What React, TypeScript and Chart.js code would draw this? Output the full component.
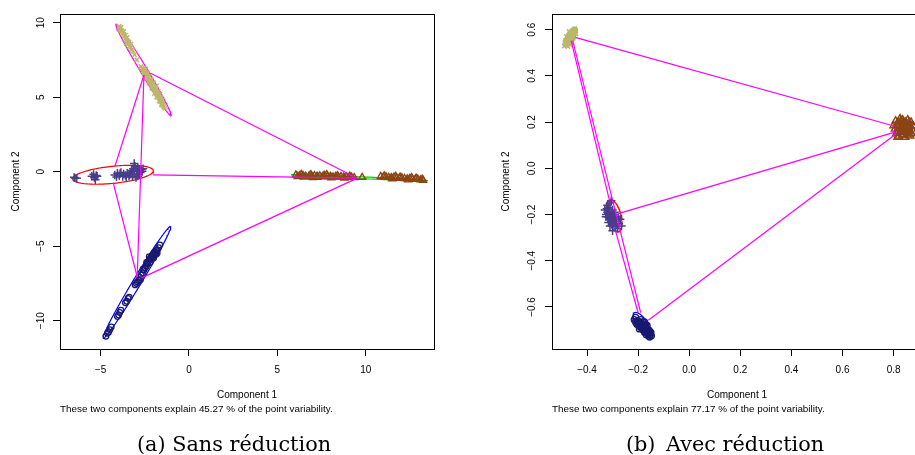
import React, { useEffect, useRef } from "react";
import { Chart, registerables } from "chart.js";

Chart.register(...registerables);

type P = [number, number];

// ---------------- Panel (a) : Sans réduction ----------------
const aXTicks = [-5, 0, 5, 10];
const aXTickLabels = ["−5", "0", "5", "10"];
const aYTicks = [-10, -5, 0, 5, 10];
const aYTickLabels = ["−10", "−5", "0", "5", "10"];
const aXRange = [-7.3, 13.865];
const aYRange = [-11.9, 10.58];
const aNote = "These two components explain 45.27 % of the point variability.";

// cluster points (Component 1, Component 2)
const aCross: P[] = [
  [-6.45, -0.42], [-6.35, -0.45], [-6.5, -0.38], [-5.5, -0.3], [-5.4, -0.18], [-5.35, -0.4],
  [-5.25, -0.25], [-5.3, -0.55], [-5.2, -0.3], [-4.2, -0.22], [-4.1, -0.35], [-4.05, -0.1],
  [-3.95, -0.28], [-3.85, -0.05], [-3.75, -0.32], [-3.7, -0.15], [-3.6, -0.25], [-3.5, -0.1],
  [-3.4, -0.3], [-3.3, -0.05], [-3.25, 0.08], [-3.2, -0.35], [-3.15, 0.2], [-3.1, -0.15],
  [-3.05, 0.35], [-3.0, -0.4], [-2.95, 0.05], [-2.9, 0.25], [-2.85, -0.2], [-2.8, 0.12],
  [-2.75, -0.05], [-2.7, 0.15], [-2.65, 0.02], [-2.6, 0.2], [-3.1, 0.55], [-3.35, -0.2],
  [-3.55, -0.35], [-3.9, -0.12], [-2.9, -0.3], [-3.2, 0.0],
];
const aCircle: P[] = [
  [-4.7, -11.05], [-4.62, -10.85], [-4.55, -10.78], [-4.48, -10.6], [-4.4, -10.42],
  [-4.05, -9.72], [-3.98, -9.62], [-3.92, -9.45], [-3.85, -9.3], [-3.6, -8.8], [-3.52, -8.7],
  [-3.45, -8.5], [-3.38, -8.42], [-3.05, -7.6], [-2.98, -7.5], [-2.92, -7.4], [-2.85, -7.3],
  [-2.78, -7.1], [-2.7, -6.95], [-2.62, -6.8], [-2.55, -6.6], [-2.48, -6.45], [-2.42, -6.35],
  [-2.35, -6.2], [-2.3, -6.05], [-2.25, -5.95], [-2.2, -5.85], [-2.15, -5.75], [-2.1, -5.7],
  [-2.05, -5.55], [-2.0, -5.5], [-1.95, -5.4], [-1.9, -5.45], [-1.85, -5.3], [-1.8, -5.25],
  [-1.72, -5.1], [-1.65, -4.92], [-2.25, -5.7], [-2.05, -5.75], [-1.85, -5.55],
  [-2.4, -6.1], [-2.2, -6.1], [-2.0, -5.8], [-1.8, -5.45], [-2.6, -6.55], [-2.75, -7.25],
];
const aTriangle: P[] = [
  [6.05, -0.22], [6.25, -0.28], [6.45, -0.25], [6.6, -0.3], [6.8, -0.27], [6.95, -0.32],
  [7.1, -0.26], [7.25, -0.3], [7.4, -0.28], [7.55, -0.33], [7.7, -0.3], [7.85, -0.34],
  [8.0, -0.31], [8.15, -0.35], [8.3, -0.32], [8.45, -0.36], [8.6, -0.33], [8.75, -0.37],
  [8.9, -0.35], [9.05, -0.38], [9.2, -0.36], [9.35, -0.4], [9.8, -0.38],
  [6.15, -0.32], [6.5, -0.36], [6.9, -0.2], [7.3, -0.38], [7.65, -0.24], [8.05, -0.41],
  [8.4, -0.26], [8.8, -0.43], [9.1, -0.3], [6.35, -0.18], [7.0, -0.4], [7.8, -0.2],
  [10.85, -0.32], [11.0, -0.36], [11.15, -0.34], [11.3, -0.38], [11.45, -0.4], [11.6, -0.37],
  [11.75, -0.42], [11.9, -0.44], [12.05, -0.41], [12.2, -0.46], [12.35, -0.48], [12.5, -0.45],
  [12.65, -0.5], [12.8, -0.52], [12.95, -0.5], [13.1, -0.55], [13.25, -0.58],
  [11.05, -0.28], [11.5, -0.48], [11.95, -0.36], [12.4, -0.55], [12.85, -0.44], [13.2, -0.5],
  [11.7, -0.32], [12.6, -0.4],
];
const aX: P[] = [
  [-3.96, 9.75], [-3.92, 9.62], [-3.86, 9.68], [-3.88, 9.5], [-3.8, 9.45], [-3.76, 9.3],
  [-3.7, 9.2], [-3.66, 9.05], [-3.58, 8.95], [-3.52, 8.8], [-3.48, 8.68], [-3.44, 8.55],
  [-3.36, 8.45], [-3.3, 8.35], [-3.24, 8.2], [-3.18, 8.1], [-3.08, 7.85], [-2.95, 7.5],
  [-2.72, 7.05], [-2.66, 6.95], [-2.58, 6.9], [-2.62, 6.75], [-2.5, 6.7], [-2.48, 6.55],
  [-2.4, 6.5], [-2.38, 6.35], [-2.3, 6.25], [-2.28, 6.1], [-2.2, 6.05], [-2.15, 5.9],
  [-2.1, 5.75], [-2.02, 5.7], [-2.0, 5.55], [-1.92, 5.5], [-1.9, 5.35], [-1.82, 5.3],
  [-1.8, 5.15], [-1.72, 5.1], [-1.7, 4.95], [-1.62, 4.85], [-1.6, 4.7], [-1.52, 4.6],
  [-1.48, 4.45], [-1.42, 4.35], [-1.36, 4.25], [-2.05, 5.95], [-1.85, 5.55], [-1.65, 5.2],
  [-2.45, 6.85], [-2.55, 6.6], [-2.35, 6.6], [-2.3, 6.4], [-2.45, 6.25], [-2.15, 6.2],
  [-2.25, 5.95], [-2.0, 5.95], [-2.1, 5.6], [-1.85, 5.75], [-1.95, 5.25], [-1.75, 5.4],
  [-1.82, 5.0], [-1.6, 5.0], [-1.68, 4.75], [-1.5, 4.8], [-1.55, 4.5], [-3.7, 9.4],
  [-3.6, 9.15], [-3.5, 9.0], [-3.4, 8.7], [-3.3, 8.55], [-3.55, 8.6],
];
// ellipses: [centre x, centre y, axis-1 dx, axis-1 dy, axis-2 dx, axis-2 dy]
const aEllCross = [-4.3, -0.21, 2.28, 0.28, 0.05, -0.57];
const aEllCircle = [-2.945, -7.42, 1.905, 3.75, 0.2, -0.14];
const aEllTriangle = [9.65, -0.4, 3.85, -0.2, 0.0, 0.06];
const aEllX = [-2.575, 6.835, 1.555, -3.075, 0.17, 0.12];
// segments between clusters: [x1, y1, x2, y2]
const aLinks = [
  [-2.55, 6.49, -4.19, 0.36],
  [-2.55, 6.49, -2.93, -7.07],
  [-4.29, -0.74, -2.93, -7.07],
  [-2.2, 6.62, 9.49, -0.43],
  [-2.02, -0.22, 9.58, -0.44],
  [-2.68, -7.13, 9.49, -0.45],
];

// ---------------- Panel (b) : Avec réduction ----------------
const bXTicks = [-0.4, -0.2, 0, 0.2, 0.4, 0.6, 0.8];
const bXTickLabels = ["−0.4", "−0.2", "0.0", "0.2", "0.4", "0.6", "0.8"];
const bYTicks = [-0.6, -0.4, -0.2, 0, 0.2, 0.4, 0.6];
const bYTickLabels = ["−0.6", "−0.4", "−0.2", "0.0", "0.2", "0.4", "0.6"];
const bXRange = [-0.537, 0.911];
const bYRange = [-0.782, 0.668];
const bNote = "These two components explain 77.17 % of the point variability.";

const bCross: P[] = [
  [-0.33, -0.18], [-0.325, -0.2], [-0.32, -0.19], [-0.318, -0.21], [-0.315, -0.17],
  [-0.312, -0.22], [-0.31, -0.15], [-0.308, -0.2], [-0.305, -0.23], [-0.302, -0.19],
  [-0.3, -0.21], [-0.298, -0.24], [-0.295, -0.2], [-0.292, -0.22], [-0.29, -0.25],
  [-0.288, -0.21], [-0.285, -0.23], [-0.28, -0.26], [-0.275, -0.24], [-0.27, -0.22],
  [-0.265, -0.25], [-0.3, -0.27], [-0.31, -0.25], [-0.32, -0.16], [-0.305, -0.14],
  [-0.322, -0.175], [-0.314, -0.195], [-0.306, -0.215], [-0.296, -0.23], [-0.286, -0.245],
  [-0.316, -0.235], [-0.326, -0.21], [-0.278, -0.215], [-0.292, -0.19], [-0.3, -0.18],
];
const bCircle: P[] = [
  [-0.215, -0.655], [-0.21, -0.665], [-0.205, -0.66], [-0.2, -0.675], [-0.198, -0.665],
  [-0.195, -0.68], [-0.19, -0.67], [-0.188, -0.69], [-0.185, -0.675], [-0.18, -0.685],
  [-0.178, -0.695], [-0.175, -0.68], [-0.172, -0.7], [-0.17, -0.69], [-0.168, -0.705],
  [-0.165, -0.695], [-0.162, -0.71], [-0.16, -0.7], [-0.158, -0.715], [-0.155, -0.705],
  [-0.152, -0.72], [-0.15, -0.71], [-0.148, -0.725], [-0.19, -0.655], [-0.175, -0.665],
  [-0.205, -0.675], [-0.195, -0.695], [-0.185, -0.69], [-0.18, -0.7], [-0.175, -0.71],
  [-0.168, -0.72], [-0.16, -0.725], [-0.155, -0.73], [-0.2, -0.66], [-0.183, -0.665],
  [-0.165, -0.68], [-0.158, -0.7], [-0.17, -0.675], [-0.21, -0.645], [-0.192, -0.685],
  [-0.178, -0.675],
];
const bTriangle: P[] = [
  [0.805, 0.17], [0.81, 0.15], [0.812, 0.19], [0.815, 0.16], [0.818, 0.2], [0.82, 0.14],
  [0.822, 0.175], [0.825, 0.155], [0.828, 0.205], [0.83, 0.165], [0.832, 0.185], [0.835, 0.145],
  [0.838, 0.195], [0.84, 0.17], [0.842, 0.155], [0.845, 0.2], [0.848, 0.18], [0.85, 0.16],
  [0.852, 0.19], [0.855, 0.145], [0.858, 0.175], [0.86, 0.2], [0.862, 0.16], [0.865, 0.185],
  [0.87, 0.15], [0.872, 0.17], [0.8, 0.185], [0.808, 0.205], [0.815, 0.135], [0.825, 0.215],
  [0.835, 0.21], [0.845, 0.135], [0.855, 0.21], [0.865, 0.14], [0.868, 0.2], [0.875, 0.185],
  [0.876, 0.16], [0.83, 0.18], [0.85, 0.175], [0.84, 0.19], [0.82, 0.185], [0.86, 0.185],
  [0.845, 0.165], [0.835, 0.16],
];
const bX: P[] = [
  [-0.488, 0.53], [-0.485, 0.545], [-0.482, 0.536], [-0.48, 0.556], [-0.478, 0.546],
  [-0.476, 0.566], [-0.474, 0.54], [-0.472, 0.574], [-0.47, 0.558], [-0.468, 0.582],
  [-0.466, 0.55], [-0.464, 0.568], [-0.462, 0.586], [-0.46, 0.576], [-0.458, 0.594],
  [-0.456, 0.562], [-0.454, 0.582], [-0.452, 0.6], [-0.45, 0.588], [-0.448, 0.604],
  [-0.446, 0.594], [-0.444, 0.582], [-0.458, 0.546], [-0.47, 0.592], [-0.48, 0.57],
  [-0.466, 0.535], [-0.475, 0.528], [-0.484, 0.552], [-0.478, 0.532], [-0.472, 0.55],
  [-0.468, 0.565], [-0.462, 0.56], [-0.456, 0.575], [-0.45, 0.596], [-0.46, 0.59],
  [-0.474, 0.56], [-0.464, 0.545], [-0.452, 0.57], [-0.486, 0.54],
];
const bEllCross = [-0.294, -0.206, -0.0162, 0.0686, 0.0265, 0.0077];
const bEllCircle = [-0.185, -0.675, -0.03, 0.05, 0.018, 0.013];
const bEllTriangle = [0.838, 0.175, 0.036, 0.0, 0.0, 0.038];
const bEllX = [-0.464, 0.57, 0.022, 0.039, 0.013, -0.009];
const bLinks = [
  [-0.443, 0.566, 0.805, 0.182],
  [-0.462, 0.553, -0.312, -0.14],
  [-0.456, 0.553, -0.19, -0.625],
  [-0.288, -0.272, -0.2, -0.625],
  [-0.278, -0.196, 0.805, 0.157],
  [-0.16, -0.658, 0.81, 0.15],
];

// ---------------- styling ----------------
const COL_CROSS = "#483D8B";
const COL_CIRCLE = "#191970";
const COL_TRI = "#8B4513";
const COL_X = "#BDB76B";
const MAGENTA = "#FF00FF";
const SANS = "'Liberation Sans', Arial, Helvetica, sans-serif";

function ellipse(e: number[], n = 120) {
  const [cx, cy, ux, uy, vx, vy] = e;
  const pts: { x: number; y: number }[] = [];
  for (let i = 0; i <= n; i++) {
    const t = (i / n) * 2 * Math.PI;
    pts.push({ x: cx + ux * Math.cos(t) + vx * Math.sin(t), y: cy + uy * Math.cos(t) + vy * Math.sin(t) });
  }
  return pts;
}

const lineDs = (pts: { x: number; y: number }[], color: string) => ({
  data: pts,
  showLine: true,
  borderColor: color,
  backgroundColor: color,
  borderWidth: 1.2,
  pointRadius: 0,
  fill: false,
  tension: 0,
});

const ptDs = (pts: P[], style: string, color: string, r: number, bw: number) => ({
  data: pts.map(([x, y]) => ({ x, y })),
  showLine: false,
  pointStyle: style,
  pointRadius: r,
  pointBorderWidth: bw,
  borderColor: color,
  backgroundColor: "rgba(0,0,0,0)",
  pointBorderColor: color,
  pointBackgroundColor: "rgba(0,0,0,0)",
});

const boxPlugin = {
  id: "rbox",
  afterDraw(chart: any) {
    const { ctx, chartArea: a } = chart;
    ctx.save();
    ctx.strokeStyle = "#000";
    ctx.lineWidth = 1;
    ctx.strokeRect(Math.round(a.left) + 0.5, Math.round(a.top) + 0.5, Math.round(a.right - a.left), Math.round(a.bottom - a.top));
    ctx.restore();
  },
};

type PanelSpec = {
  cross: P[]; circle: P[]; tri: P[]; xs: P[];
  ellCross: number[]; ellCircle: number[]; ellTri: number[]; ellX: number[];
  ellColors: string[];
  links: number[][];
  xRange: number[]; yRange: number[];
  xTicks: number[]; xLabels: string[]; yTicks: number[]; yLabels: string[];
  pad: { left: number; top: number; right: number; bottom: number };
  yWidth: number; yTitlePad: number; yTickPad: number;
  sizes: number[];
};

function buildConfig(p: PanelSpec): any {
  const font = { family: SANS, size: 10 };
  const s = p.sizes;
  const datasets: any[] = [];
  p.links.forEach((l) => datasets.push(lineDs([{ x: l[0], y: l[1] }, { x: l[2], y: l[3] }], MAGENTA)));
  datasets.push(ptDs(p.xs, "crossRot", COL_X, s[0], 1.5));
  datasets.push(ptDs(p.tri, "triangle", COL_TRI, s[1], 1.4));
  datasets.push(ptDs(p.circle, "circle", COL_CIRCLE, s[2], 1.3));
  datasets.push(ptDs(p.cross, "cross", COL_CROSS, s[3], 1.5));
  datasets.push(lineDs(ellipse(p.ellCross), p.ellColors[0]));
  datasets.push(lineDs(ellipse(p.ellCircle), p.ellColors[1]));
  datasets.push(lineDs(ellipse(p.ellTri), p.ellColors[2]));
  datasets.push(lineDs(ellipse(p.ellX), p.ellColors[3]));
  return {
    type: "scatter",
    data: { datasets },
    plugins: [boxPlugin],
    options: {
      responsive: false,
      animation: false,
      events: [],
      layout: { padding: p.pad },
      plugins: { legend: { display: false }, tooltip: { enabled: false }, title: { display: false } },
      scales: {
        x: {
          type: "linear",
          position: "bottom",
          min: p.xRange[0],
          max: p.xRange[1],
          afterBuildTicks: (sc: any) => { sc.ticks = p.xTicks.map((v) => ({ value: v })); },
          afterFit: (sc: any) => { sc.height = 60; },
          ticks: { autoSkip: false, minRotation: 0, maxRotation: 0, padding: 8, color: "#000", font, callback: (_v: any, i: number) => p.xLabels[i] },
          grid: { drawOnChartArea: false, drawTicks: true, tickLength: 7, color: "#000", lineWidth: 1 },
          border: { display: true, color: "#000", width: 1 },
          title: { display: true, text: "Component 1", color: "#000", font, padding: { top: 0, bottom: 7.3 } },
        },
        y: {
          type: "linear",
          position: "left",
          min: p.yRange[0],
          max: p.yRange[1],
          afterBuildTicks: (sc: any) => { sc.ticks = p.yTicks.map((v) => ({ value: v })); },
          afterFit: (sc: any) => { sc.width = p.yWidth; },
          ticks: { autoSkip: false, minRotation: 90, maxRotation: 90, crossAlign: "center", padding: p.yTickPad, color: "#000", font, callback: (_v: any, i: number) => p.yLabels[i] },
          grid: { drawOnChartArea: false, drawTicks: true, tickLength: 7, color: "#000", lineWidth: 1 },
          border: { display: true, color: "#000", width: 1 },
          title: { display: true, text: "Component 2", color: "#000", font, padding: { top: p.yTitlePad, bottom: 0 } },
        },
      },
    },
  };
}

const panelA: PanelSpec = {
  cross: aCross, circle: aCircle, tri: aTriangle, xs: aX,
  ellCross: aEllCross, ellCircle: aEllCircle, ellTri: aEllTriangle, ellX: aEllX,
  ellColors: ["#FF0000", "#0000FF", "#00CD00", MAGENTA],
  links: aLinks,
  xRange: aXRange, yRange: aYRange,
  xTicks: aXTicks, xLabels: aXTickLabels, yTicks: aYTicks, yLabels: aYTickLabels,
  pad: { left: 0, top: 14, right: 26, bottom: 46 },
  yWidth: 60, yTitlePad: 10, yTickPad: 3.5,
  sizes: [3.2, 4, 2.8, 4.2],
};

const panelB: PanelSpec = {
  cross: bCross, circle: bCircle, tri: bTriangle, xs: bX,
  ellCross: bEllCross, ellCircle: bEllCircle, ellTri: bEllTriangle, ellX: bEllX,
  ellColors: ["#FF0000", "#0000FF", MAGENTA, "#00CD00"],
  links: bLinks,
  xRange: bXRange, yRange: bYRange,
  xTicks: bXTicks, xLabels: bXTickLabels, yTicks: bYTicks, yLabels: bYTickLabels,
  pad: { left: 30, top: 14, right: 8, bottom: 46 },
  yWidth: 62, yTitlePad: 10.7, yTickPad: 2.5,
  sizes: [3.2, 4.2, 3, 4.2],
};

function ChartCanvas({ spec, left, width }: { spec: PanelSpec; left: number; width: number }) {
  const ref = useRef<HTMLCanvasElement | null>(null);
  useEffect(() => {
    if (!ref.current) return;
    const chart = new Chart(ref.current, buildConfig(spec));
    return () => chart.destroy();
  }, [spec]);
  return (
    <canvas
      ref={ref}
      width={width}
      height={455}
      style={{ position: "absolute", left, top: 0, width, height: 455, display: "block" }}
    />
  );
}

const noteStyle: React.CSSProperties = {
  position: "absolute",
  top: 403,
  fontFamily: SANS,
  fontSize: 9.9,
  lineHeight: "12px",
  color: "#000",
  whiteSpace: "nowrap",
};

const capStyle: React.CSSProperties = {
  position: "absolute",
  top: 434,
  width: 300,
  textAlign: "center",
  fontFamily: "'DejaVu Serif', serif",
  fontSize: 20.8,
  lineHeight: "21px",
  color: "#000",
  whiteSpace: "nowrap",
};

export default function App() {
  return (
    <div style={{ position: "fixed", left: 0, top: 0, width: 915, height: 455, overflow: "hidden", background: "#fff" }}>
      <ChartCanvas spec={panelA} left={0} width={460} />
      <ChartCanvas spec={panelB} left={460} width={470} />
      <div style={{ ...noteStyle, left: 60 }}>{aNote}</div>
      <div style={{ ...noteStyle, left: 552 }}>{bNote}</div>
      <div style={{ ...capStyle, left: 84 }}>(a) Sans réduction</div>
      <div style={{ ...capStyle, left: 575 }}>
        <span style={{ marginRight: 4 }}>(b)</span> Avec réduction
      </div>
    </div>
  );
}
